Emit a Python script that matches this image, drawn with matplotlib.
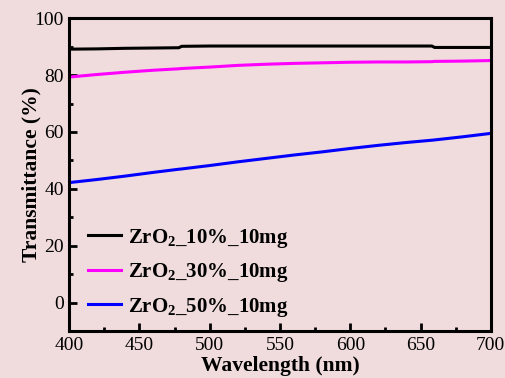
import matplotlib.pyplot as plt
from matplotlib.ticker import MultipleLocator

plt.rcParams['font.family'] = 'Liberation Serif'
plt.rcParams['mathtext.fontset'] = 'custom'
plt.rcParams['mathtext.rm'] = 'Liberation Serif:bold'
plt.rcParams['mathtext.it'] = 'Liberation Serif:bold'
plt.rcParams['mathtext.bf'] = 'Liberation Serif:bold'

bg = '#f0dcdc'

# wavelength (nm)
wl = [400, 420, 440, 460, 478, 480, 500, 520, 540, 560, 580, 600, 620, 640, 658, 660, 680, 700]

zr10 = [89.1, 89.2, 89.4, 89.5, 89.6, 90.1, 90.2, 90.2, 90.2, 90.2, 90.2, 90.2, 90.2, 90.2, 90.2, 89.7, 89.7, 89.7]
zr30 = [79.3, 80.2, 81.0, 81.7, 82.2, 82.3, 82.8, 83.4, 83.8, 84.1, 84.3, 84.5, 84.6, 84.6, 84.7, 84.8, 84.9, 85.1]
zr50 = [42.2, 43.3, 44.5, 45.8, 46.9, 47.0, 48.2, 49.5, 50.7, 51.9, 53.0, 54.2, 55.3, 56.3, 57.1, 57.2, 58.3, 59.5]

labels = ['ZrO$_2$_10%_10mg', 'ZrO$_2$_30%_10mg', 'ZrO$_2$_50%_10mg']
colors = ['black', '#ff00ff', '#0000ff']

fig = plt.figure(figsize=(5.05, 3.78), dpi=100, facecolor=bg)
ax = fig.add_axes([0.137, 0.124, 0.835, 0.828], facecolor=bg)

for y, lab, c in zip([zr10, zr30, zr50], labels, colors):
    ax.plot(wl, y, color=c, lw=2.2, label=lab)

ax.set_xlim(400, 700)
ax.set_ylim(-10, 100)
ax.xaxis.set_major_locator(MultipleLocator(50))
ax.xaxis.set_minor_locator(MultipleLocator(25))
ax.yaxis.set_major_locator(MultipleLocator(20))
ax.yaxis.set_minor_locator(MultipleLocator(10))
ax.tick_params(which='both', direction='in', width=2, labelsize=14, pad=4)
ax.tick_params(which='major', length=6)
ax.tick_params(which='minor', length=3)
for s in ax.spines.values():
    s.set_linewidth(2.2)

ax.set_xlabel('Wavelength (nm)', fontsize=15.5, fontweight='bold', labelpad=2)
ax.set_ylabel('Transmittance (%)', fontsize=15.5, fontweight='bold', labelpad=-5)

leg = ax.legend(loc='lower left', bbox_to_anchor=(0.0, -0.02), frameon=False,
                prop={'size': 15, 'weight': 'bold'}, handlelength=1.6,
                handletextpad=0.3, labelspacing=0.55)

fig.savefig('out.png', dpi=100, facecolor=bg)
